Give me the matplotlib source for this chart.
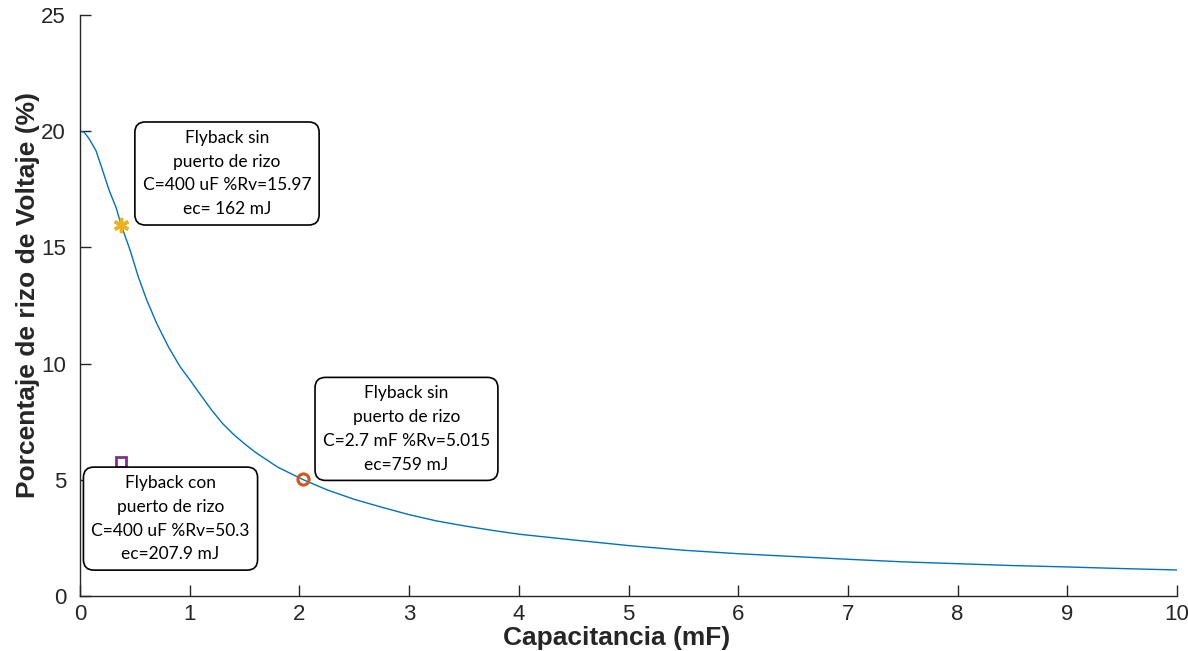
import matplotlib
matplotlib.use("Agg")
import matplotlib.pyplot as plt

# Ripple percentage versus filter capacitance
cap_mf = [0.0, 0.04, 0.085, 0.146, 0.207, 0.267, 0.328, 0.375, 0.456, 0.531,
          0.608, 0.699, 0.805, 0.912, 1.003, 1.1, 1.2, 1.3, 1.4, 1.5, 1.6,
          1.8, 2.03, 2.25, 2.5, 2.75, 3.0, 3.25, 3.5, 3.75, 4.0, 4.5, 5.0,
          5.5, 6.0, 6.5, 7.0, 7.5, 8.0, 8.5, 9.0, 9.5, 10.0]
ripple_pct = [20.0, 19.95, 19.66, 19.16, 18.3, 17.44, 16.73, 15.97, 14.89,
              13.74, 12.74, 11.73, 10.73, 9.87, 9.29, 8.65, 8.0, 7.42, 6.95,
              6.55, 6.18, 5.55, 5.015, 4.57, 4.16, 3.82, 3.5, 3.23, 3.02,
              2.83, 2.66, 2.41, 2.17, 1.97, 1.82, 1.7, 1.58, 1.47, 1.39,
              1.31, 1.25, 1.18, 1.12]

# Highlighted operating points
pt_sin_400 = (0.375, 15.97)
pt_sin_2700 = (2.03, 5.015)
pt_con_400 = (0.375, 5.75)

label_sin_400 = "Flyback sin\npuerto de rizo\nC=400 uF %Rv=15.97\nec= 162 mJ"
label_sin_2700 = "Flyback sin\npuerto de rizo\nC=2.7 mF %Rv=5.015\nec=759 mJ"
label_con_400 = "Flyback con\npuerto de rizo\nC=400 uF %Rv=50.3\nec=207.9 mJ"

x_ticks = list(range(0, 11))
y_ticks = [0, 5, 10, 15, 20, 25]

plt.rcParams['font.family'] = ['Liberation Sans', 'DejaVu Sans']

fig = plt.figure(figsize=(11.88, 6.51), dpi=100)
ax = fig.add_axes([80 / 1188, 55 / 651, 1097 / 1188, 581 / 651])

ax.plot(cap_mf, ripple_pct, color='#0072BD', lw=1.0, zorder=2)

ax.plot(*pt_sin_400, marker=(6, 2, 0), ms=11, mew=2.4, color='#EDB120',
        ls='none', zorder=4)
ax.plot(*pt_sin_2700, marker='o', ms=8, mew=2.2, mfc='none', mec='#D95319',
        ls='none', zorder=4)
ax.plot(*pt_con_400, marker='s', ms=7, mew=2.0, mfc='white', mec='#7E2F8E',
        ls='none', zorder=4)

box = dict(boxstyle='round,pad=0.45,rounding_size=0.6', fc='white',
           ec='black', lw=1.2)
ann_font = dict(family=['Lato', 'DejaVu Sans'], fontsize=12.5,
                ha='center', va='center', linespacing=1.6, zorder=5)
ax.text(1.34, 18.18, label_sin_400, bbox=box, **ann_font)
ax.text(2.976, 7.19, label_sin_2700, bbox=box, **ann_font)
ax.text(0.825, 3.33, label_con_400, bbox=box, **ann_font)

ax.set_xlim(0, 10)
ax.set_ylim(0, 25)
ax.set_xticks(x_ticks)
ax.set_yticks(y_ticks)

for side in ('top', 'right'):
    ax.spines[side].set_visible(False)
for side in ('left', 'bottom'):
    ax.spines[side].set_color('#262626')
    ax.spines[side].set_linewidth(1.0)

ax.tick_params(direction='in', length=8, width=1.0, colors='#262626',
               labelsize=16)
ax.tick_params(axis='x', pad=6)
ax.tick_params(axis='y', pad=10)

ax.set_xlabel('Capacitancia (mF)', fontsize=19, fontweight='bold',
              color='#262626', va='center')
ax.set_ylabel('Porcentaje de rizo de Voltaje (%)', fontsize=19,
              fontweight='bold', color='#262626', va='center')
ax.xaxis.set_label_coords(0.489, -0.073)
ax.yaxis.set_label_coords(-0.047, 0.518)

fig.savefig('out.png', dpi=100)
